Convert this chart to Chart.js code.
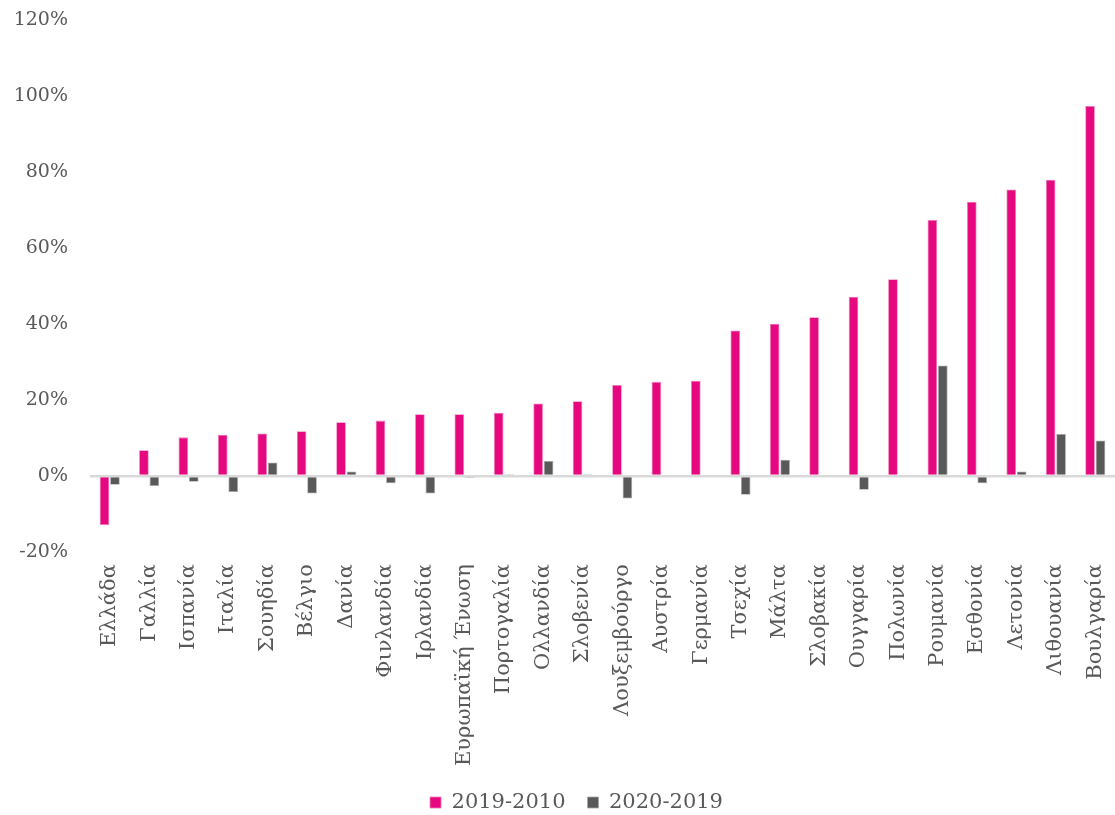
<!DOCTYPE html>
<html>
<head>
<meta charset="utf-8">
<script src="https://cdn.jsdelivr.net/npm/chart.js@4.4.0/dist/chart.umd.min.js"></script>
<style>
  html, body { margin: 0; padding: 0; background: #fff; }
  #wrap { width: 1115px; height: 815px; }
</style>
</head>
<body>
<div id="wrap"><canvas id="popChart"></canvas></div>
<script>
var countries = ["Ελλάδα", "Γαλλία", "Ισπανία", "Ιταλία", "Σουηδία", "Βέλγιο", "Δανία",
  "Φινλανδία", "Ιρλανδία", "Ευρωπαϊκή Ένωση", "Πορτογαλία", "Ολλανδία", "Σλοβενία",
  "Λουξεμβούργο", "Αυστρία", "Γερμανία", "Τσεχία", "Μάλτα", "Σλοβακία", "Ουγγαρία",
  "Πολωνία", "Ρουμανία", "Εσθονία", "Λετονία", "Λιθουανία", "Βουλγαρία"];
var change2019_2010 = [-12.9, 6.8, 10.2, 10.9, 11.2, 11.8, 14.2, 14.6, 16.3, 16.3, 16.7, 19.1, 19.7,
  24.0, 24.8, 25.1, 38.3, 40.1, 41.8, 47.2, 51.8, 67.4, 72.2, 75.4, 78.0, 97.4];
var change2020_2019 = [-2.3, -2.6, -1.5, -4.2, 3.6, -4.6, 1.2, -1.9, -4.6, -0.4, 0.5, 4.0, 0.5,
  -5.9, 0, 0, -4.9, 4.3, 0, -3.6, 0, 29.1, -1.9, 1.2, 11.1, 9.4];
var yTicks = [-20, 0, 20, 40, 60, 80, 100, 120];

// legend sits a bit right of centre in the original
var shiftLegend = {
    id: 'shiftLegend',
    afterLayout: function (chart) {
        chart.legend.left += 16;
        chart.legend.right += 16;
    }
};

var ctx = document.getElementById('popChart');
var myChart = new Chart(ctx, {
    type: 'bar',
    data: {
        labels: countries,
        datasets: [{
            label: '2019-2010',
            data: change2019_2010,
            backgroundColor: '#e6087f',
            borderColor: '#f07ab8',
            borderWidth: 0.8,
            barPercentage: 0.92,
            categoryPercentage: 0.53
        }, {
            label: '2020-2019',
            data: change2020_2019,
            backgroundColor: '#595959',
            borderColor: '#a6a6a6',
            borderWidth: 0.8,
            barPercentage: 0.92,
            categoryPercentage: 0.53
        }]
    },
    plugins: [shiftLegend],
    options: {
        responsive: true,
        maintainAspectRatio: false,
        animation: false,
        layout: { padding: { top: 0, right: -4, left: 2, bottom: -8 } },
        plugins: {
            legend: {
                position: 'bottom',
                labels: {
                    color: '#595959',
                    font: { family: 'DejaVu Serif', size: 21 },
                    boxWidth: 11,
                    boxHeight: 11,
                    padding: 22
                }
            },
            tooltip: { enabled: false }
        },
        scales: {
            x: {
                grid: { display: false },
                border: { display: false },
                afterFit: function (axis) {
                    axis.paddingLeft = 0;
                    axis.paddingRight = 0;
                },
                ticks: {
                    color: '#595959',
                    font: { family: 'DejaVu Serif', size: 21 },
                    minRotation: 90,
                    maxRotation: 90,
                    autoSkip: false,
                    padding: 4
                }
            },
            y: {
                min: -20,
                max: 120,
                afterBuildTicks: function (axis) {
                    axis.ticks = yTicks.map(function (v) { return { value: v }; });
                },
                afterFit: function (axis) {
                    axis.width = 88;
                    axis.paddingTop = 20;
                },
                border: { display: false },
                grid: {
                    drawTicks: false,
                    color: function (c) { return c.tick && c.tick.value === 0 ? '#d9d9d9' : 'rgba(0,0,0,0)'; },
                    lineWidth: 2.5
                },
                ticks: {
                    color: '#595959',
                    font: { family: 'DejaVu Serif', size: 19 },
                    padding: 22,
                    callback: function (v) { return v + '%'; }
                }
            }
        }
    }
});
</script>
</body>
</html>
